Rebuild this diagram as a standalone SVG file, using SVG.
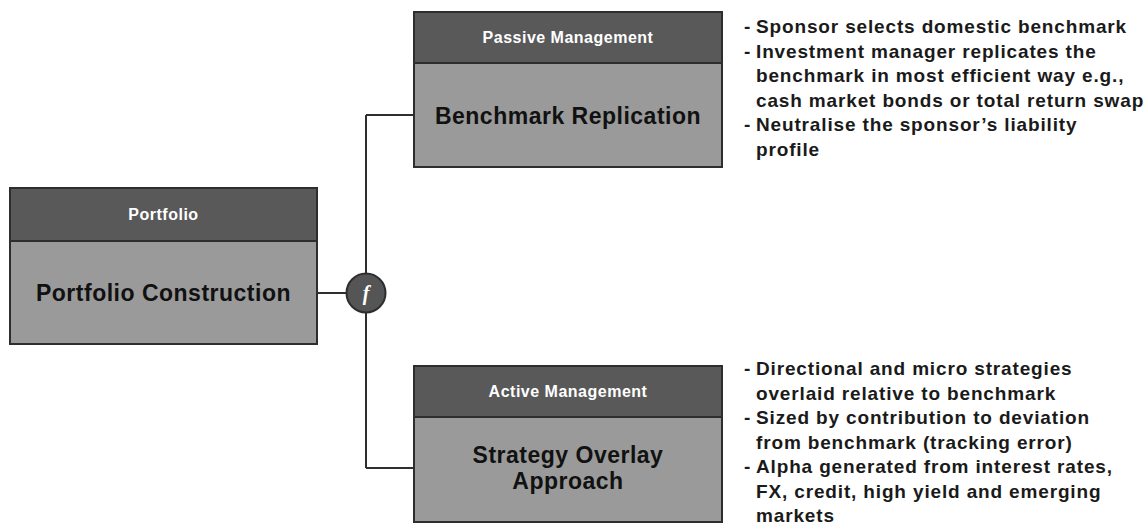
<svg xmlns="http://www.w3.org/2000/svg" width="1148" height="525" viewBox="0 0 1148 525">
<style>
.hdr{fill:#595959;stroke:#2e2e2e;stroke-width:2}
.body{fill:#9a9a9a;stroke:#2e2e2e;stroke-width:2}
.ht{font-family:"Liberation Sans",Arial,sans-serif;font-weight:bold;font-size:16px;fill:#ffffff;text-anchor:middle;letter-spacing:0.5px}
.bt{font-family:"Liberation Sans",Arial,sans-serif;font-weight:bold;font-size:23px;fill:#111111;text-anchor:middle;letter-spacing:0.5px}
.tx{font-family:"Liberation Sans",Arial,sans-serif;font-weight:bold;font-size:19px;fill:#1a1a1a;letter-spacing:0.85px}
.ln{stroke:#2e2e2e;stroke-width:2;fill:none}
</style>
<rect width="1148" height="525" fill="#ffffff"/>
<g id="connectors">
<path class="ln" d="M317 293 H347 M366 115 V273.5 M366 312.5 V468 M366 115 H414 M366 468 H414"/>
</g>
<g id="junction">
<circle cx="366" cy="293" r="19.5" fill="#555555" stroke="#2e2e2e" stroke-width="2"/>
<text x="366" y="300" font-family="Liberation Serif,serif" font-style="italic" font-weight="bold" font-size="20" fill="#ffffff" text-anchor="middle">f</text>
</g>
<g id="portfolio">
<rect class="hdr" x="10" y="188" width="307" height="53"/>
<rect class="body" x="10" y="241" width="307" height="103"/>
<text class="ht" x="163.5" y="220">Portfolio</text>
<text class="bt" x="163.5" y="301">Portfolio Construction</text>
</g>
<g id="passive">
<rect class="hdr" x="414" y="12" width="308" height="51"/>
<rect class="body" x="414" y="63" width="308" height="104"/>
<text class="ht" x="568" y="43">Passive Management</text>
<text class="bt" x="568" y="124">Benchmark Replication</text>
</g>
<g id="active">
<rect class="hdr" x="414" y="366" width="308" height="51"/>
<rect class="body" x="414" y="417" width="308" height="105"/>
<text class="ht" x="568" y="397">Active Management</text>
<text class="bt" x="568" y="463">Strategy Overlay</text>
<text class="bt" x="568" y="489">Approach</text>
</g>
<g id="passive-notes">
<text class="tx" x="744" y="33">-</text>
<text class="tx" x="756" y="33">Sponsor selects domestic benchmark</text>
<text class="tx" x="744" y="57.5">-</text>
<text class="tx" x="756" y="57.5">Investment manager replicates the</text>
<text class="tx" x="756" y="82">benchmark in most efficient way e.g.,</text>
<text class="tx" x="756" y="106.5">cash market bonds or total return swap</text>
<text class="tx" x="744" y="131">-</text>
<text class="tx" x="756" y="131">Neutralise the sponsor’s liability</text>
<text class="tx" x="756" y="155.5">profile</text>
</g>
<g id="active-notes">
<text class="tx" x="744" y="375">-</text>
<text class="tx" x="756" y="375">Directional and micro strategies</text>
<text class="tx" x="756" y="399.5">overlaid relative to benchmark</text>
<text class="tx" x="744" y="424">-</text>
<text class="tx" x="756" y="424">Sized by contribution to deviation</text>
<text class="tx" x="756" y="448.5">from benchmark (tracking error)</text>
<text class="tx" x="744" y="473">-</text>
<text class="tx" x="756" y="473">Alpha generated from interest rates,</text>
<text class="tx" x="756" y="497.5">FX, credit, high yield and emerging</text>
<text class="tx" x="756" y="522">markets</text>
</g>
</svg>
